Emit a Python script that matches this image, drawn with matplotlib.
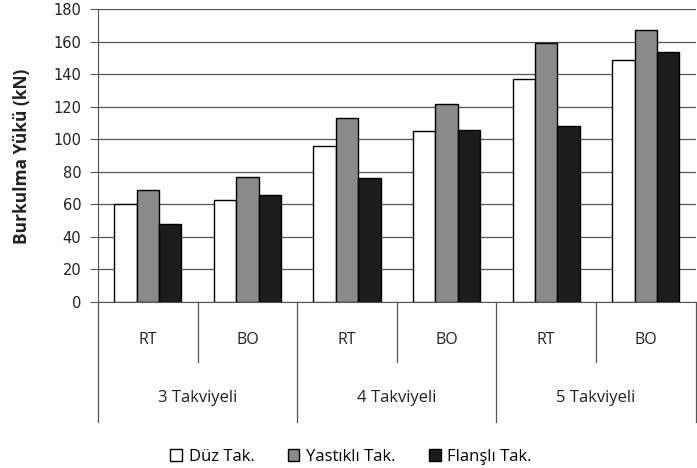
import numpy as np
import matplotlib.pyplot as plt
from matplotlib.patches import Patch

plt.rcParams['font.family'] = ['Open Sans', 'DejaVu Sans']

categories = ["RT", "BO", "RT", "BO", "RT", "BO"]
groups = ["3 Takviyeli", "4 Takviyeli", "5 Takviyeli"]
series = ["Düz Tak.", "Yastıklı Tak.", "Flanşlı Tak."]
duz = [60, 63, 96, 105, 137, 149]
yastikli = [69, 77, 113, 122, 159, 167]
flansli = [48, 66, 76, 106, 108, 154]

colors = ["white", "#8a8a8a", "#1c1c1c"]

fig = plt.figure(figsize=(6.97, 4.68), dpi=100)
ax = fig.add_axes([0.1406, 0.3547, 0.8574, 0.6255])

x = np.arange(len(categories))
w = 0.225
for i, vals in enumerate([duz, yastikli, flansli]):
    ax.bar(x + (i - 1) * w, vals, w, color=colors[i], edgecolor="black",
           linewidth=1.0, zorder=3)

ax.set_xlim(-0.5, 5.5)
ax.set_ylim(0, 180)
ax.set_yticks(np.arange(0, 181, 20))
ax.grid(axis="y", color="#555555", linewidth=0.9, zorder=0)
ax.tick_params(axis="y", length=6, color="#555555", labelsize=10.5, pad=6)
for lab in ax.get_yticklabels():
    lab.set_family("DejaVu Sans")
    lab.set_color("#222222")
ax.set_xticks([])
for s in ["top", "right"]:
    ax.spines[s].set_visible(False)
ax.spines["left"].set_color("#555555")
ax.spines["bottom"].set_color("#555555")
fig.text(22 / 697, 1 - 156 / 468, "Burkulma Yükü (kN)", rotation=90,
         ha="center", va="center", fontsize=12.5, fontweight="bold", color="#222222")

# two-level category axis
tr = ax.get_xaxis_transform()
for xi, lab in zip(x, categories):
    ax.text(xi, -0.130, lab, transform=tr, ha="center", va="center", fontsize=11.5,
            color="#222222")
for gi, g in enumerate(groups):
    ax.text(2 * gi + 0.5, -0.328, g, transform=tr, ha="center", va="center",
            fontsize=12, color="#222222")
for xb in [0.5, 2.5, 4.5]:
    ax.plot([xb, xb], [0, -0.205], transform=tr, color="#555555", lw=0.9, clip_on=False)
for xb in [-0.5, 1.5, 3.5, 5.5]:
    ax.plot([xb, xb], [0, -0.41], transform=tr, color="#555555", lw=0.9, clip_on=False)

handles = [Patch(facecolor=c, edgecolor="black", linewidth=1.0) for c in colors]
fig.legend(handles, series, loc="center", bbox_to_anchor=(351 / 697, 1 - 457 / 468),
           ncol=3, frameon=False, fontsize=12, handlelength=0.7, handleheight=0.7,
           handletextpad=0.4, columnspacing=2.0, borderpad=0.1)

fig.savefig("out.png", dpi=100)
